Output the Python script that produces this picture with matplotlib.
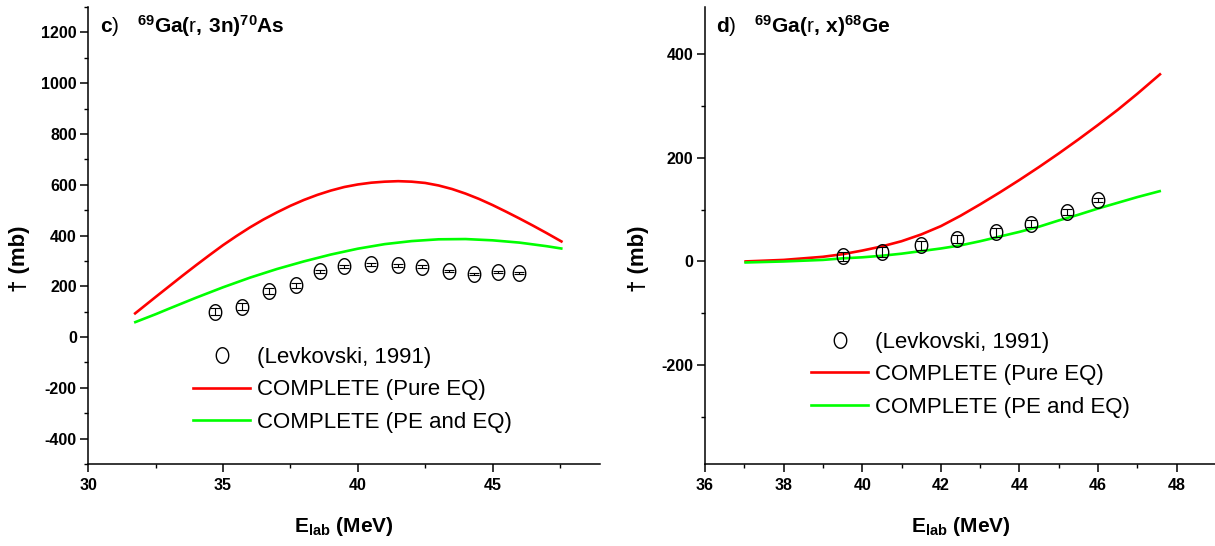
import numpy as np
import matplotlib
matplotlib.use('Agg')
import matplotlib.pyplot as plt
from matplotlib.path import Path
from matplotlib.lines import Line2D
from matplotlib.ticker import MultipleLocator

# ---------------- data: panel c) 69Ga(g,3n)70As ----------------
c_exp_E = [34.7, 35.7, 36.7, 37.7, 38.6, 39.5, 40.5, 41.5, 42.4, 43.4, 44.3, 45.2, 46.0]
c_exp_sig = [100, 120, 180, 204, 259, 279, 286, 282, 277, 261, 249, 257, 253]
c_exp_err = [14, 14, 12, 10, 6, 6, 6, 5, 5, 5, 5, 5, 5]

c_pure_E = [31.7, 32.5, 33.0, 33.5, 34.0, 34.5, 35.0, 35.5, 36.0, 36.5, 37.0, 37.5,
            38.0, 38.5, 39.0, 39.5, 40.0, 40.5, 41.0, 41.5, 42.0, 42.5, 43.0, 43.5,
            44.0, 44.5, 45.0, 45.5, 46.0, 46.5, 47.0, 47.6]
c_pure_sig = [90, 158, 200, 242, 283, 323, 362, 398, 432, 463, 491, 517,
              540, 560, 577, 591, 601, 608, 612, 614, 612, 607, 597, 583,
              565, 544, 520, 494, 467, 439, 410, 374]

c_pe_E = [31.7, 32.5, 33.0, 34.0, 35.0, 36.0, 37.0, 38.0, 39.0, 40.0, 41.0, 42.0,
          43.0, 44.0, 45.0, 46.0, 47.0, 47.6]
c_pe_sig = [57, 90, 112, 155, 196, 234, 268, 298, 325, 348, 366, 378,
            385, 386, 381, 372, 358, 348]

# ---------------- data: panel d) 69Ga(g,x)68Ge ----------------
d_exp_E = [39.5, 40.5, 41.5, 42.4, 43.4, 44.3, 45.2, 46.0]
d_exp_sig = [10, 18, 31, 43, 56, 73, 95, 118]
d_exp_err = [9, 9, 8, 8, 8, 7, 6, 4]

d_pure_E = [37.0, 38.0, 39.0, 39.5, 40.0, 40.5, 41.0, 41.5, 42.0, 42.5, 43.0, 43.5,
            44.0, 44.5, 45.0, 45.5, 46.0, 46.5, 47.0, 47.6]
d_pure_sig = [0, 3, 9, 14, 21, 29, 39, 52, 68, 88, 110, 133,
              157, 182, 208, 235, 263, 292, 323, 362]

d_pe_E = [37.0, 38.0, 39.0, 39.5, 40.0, 40.5, 41.0, 41.5, 42.0, 42.5, 43.0, 43.5,
          44.0, 44.5, 45.0, 45.5, 46.0, 46.5, 47.0, 47.6]
d_pe_sig = [-2, 0, 3, 6, 8, 11, 15, 20, 25, 31, 39, 48,
            57, 67, 79, 90, 102, 113, 124, 136]

leg_labels = ['(Levkovski, 1991)', 'COMPLETE (Pure EQ)', 'COMPLETE (PE and EQ)']

# ---------------- style ----------------
plt.rcParams['font.family'] = ['Liberation Sans', 'DejaVu Sans']
plt.rcParams['axes.unicode_minus'] = False
plt.rcParams['mathtext.fontset'] = 'custom'
plt.rcParams['mathtext.rm'] = 'Liberation Sans'
plt.rcParams['mathtext.bf'] = 'Liberation Sans:bold'
plt.rcParams['mathtext.it'] = 'Liberation Sans:bold'
plt.rcParams['mathtext.default'] = 'bf'

RED = '#ff0000'
GREEN = '#00ff00'

t = np.linspace(0, 2 * np.pi, 64)
ellipse = Path(np.column_stack([0.4 * np.cos(t), 0.5 * np.sin(t)]), closed=True)

fig = plt.figure(figsize=(12.15, 5.46), dpi=100)
ax1 = fig.add_axes([88.3 / 1215, 1 - 464 / 546, 512 / 1215, 457 / 546])
ax2 = fig.add_axes([705 / 1215, 1 - 464 / 546, 511 / 1215, 457 / 546])


def style_axes(ax):
    for s in ['top', 'right']:
        ax.spines[s].set_visible(False)
    for s in ['left', 'bottom']:
        ax.spines[s].set_linewidth(1.1)
    ax.tick_params(which='major', direction='out', length=5.8, width=1.1,
                   labelsize=11.5)
    ax.tick_params(which='minor', direction='out', length=3.0, width=1.0)
    ax.tick_params(axis='x', which='major', pad=4.5)
    ax.tick_params(axis='y', which='major', pad=2.5)
    for lab in ax.get_xticklabels() + ax.get_yticklabels():
        lab.set_fontweight('bold')


def draw_panel(ax, expE, expS, expErr, pE, pS, gE, gS):
    ax.plot(pE, pS, color=RED, lw=1.9, solid_capstyle='butt')
    ax.plot(gE, gS, color=GREEN, lw=1.9, solid_capstyle='butt')
    ax.errorbar(expE, expS, yerr=expErr, fmt='none', ecolor='black',
                elinewidth=0.8, capsize=3.5, capthick=0.8)
    ax.plot(expE, expS, ls='none', marker=ellipse, ms=11.2, mfc='none',
            mec='black', mew=1.0)


draw_panel(ax1, c_exp_E, c_exp_sig, c_exp_err, c_pure_E, c_pure_sig, c_pe_E, c_pe_sig)
draw_panel(ax2, d_exp_E, d_exp_sig, d_exp_err, d_pure_E, d_pure_sig, d_pe_E, d_pe_sig)

# axis limits and ticks
ax1.set_xlim(30, 49)
ax1.set_ylim(-500, 1300)
ax1.xaxis.set_major_locator(MultipleLocator(5))
ax1.xaxis.set_minor_locator(MultipleLocator(2.5))
ax1.set_yticks([-400, -200, 0, 200, 400, 600, 800, 1000, 1200])
ax1.yaxis.set_minor_locator(MultipleLocator(100))

ax2.set_xlim(36, 49)
ax2.set_ylim(-390, 490)
ax2.xaxis.set_major_locator(MultipleLocator(2))
ax2.xaxis.set_minor_locator(MultipleLocator(1))
ax2.set_yticks([-200, 0, 200, 400])
ax2.yaxis.set_minor_locator(MultipleLocator(100))

for ax in (ax1, ax2):
    style_axes(ax)
    ax.set_xlabel(r'$E_{lab}\ (MeV)$', fontsize=15)
    ax.set_ylabel('† (mb)', fontsize=16, fontweight='bold')

ax1.xaxis.set_label_coords(0.5, -0.112)
ax2.xaxis.set_label_coords(0.5, -0.112)
ax1.yaxis.set_label_coords(-0.114, 0.449)
ax2.yaxis.set_label_coords(-0.110, 0.449)

# panel titles
fig.text(100 / 1215, 1 - 33 / 546, r'$c\mathrm{)}\ \ \ {}^{69}Ga(\mathrm{r},\,3n)^{70}As$',
         fontsize=15, ha='left', va='baseline')
fig.text(716 / 1215, 1 - 33 / 546, r'$d\mathrm{)}\ \ \ {}^{69}Ga(\mathrm{r},\,x)^{68}Ge$',
         fontsize=15, ha='left', va='baseline')

# legends
handles = [Line2D([], [], ls='none', marker=ellipse, ms=11.2, mfc='none', mec='black', mew=1.0),
           Line2D([], [], color=RED, lw=1.9),
           Line2D([], [], color=GREEN, lw=1.9)]
for ax, anchor in ((ax1, (0.2045, 0.2560)), (ax2, (0.2074, 0.2890))):
    ax.legend(handles, leg_labels, loc='upper left', bbox_to_anchor=anchor,
              frameon=False, fontsize=16, handlelength=2.57, handletextpad=0.3,
              labelspacing=0.51, borderpad=0, borderaxespad=0)

fig.savefig('out.png', dpi=100)
